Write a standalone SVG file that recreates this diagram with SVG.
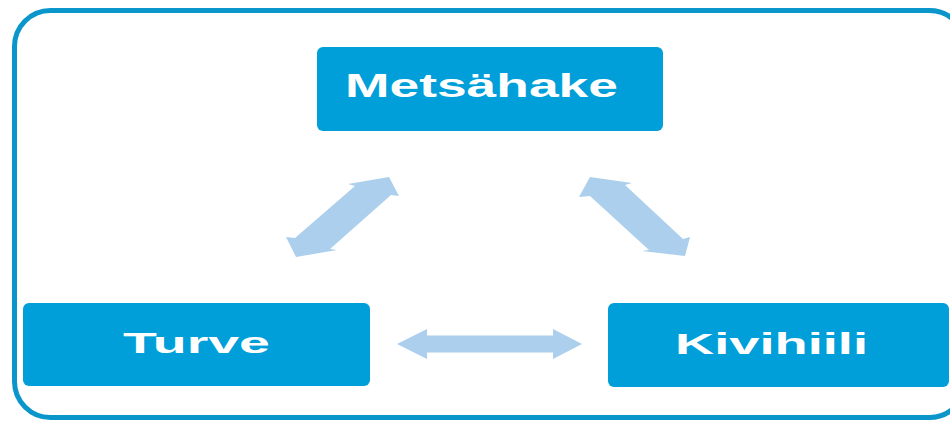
<svg xmlns="http://www.w3.org/2000/svg" width="950" height="421" viewBox="0 0 950 421">
<style>
.box{fill:#009fd9}
.lbl{font-family:"Liberation Sans",Arial,sans-serif;font-weight:bold;fill:#ffffff}
.arr{fill:#abcfec}
</style>
<rect x="0" y="0" width="950" height="421" fill="#ffffff"/>
<rect x="14.5" y="10.5" width="951" height="407" rx="36" ry="36" fill="none" stroke="#0a96cb" stroke-width="5"/>
<g id="connectors">
<polygon class="arr" points="389,177 399,196 391,195 330,249 337,250 296,257 286,237 295,238 355,186 348,184"/>
<polygon class="arr" points="590,177 632,183 625,185 683,239 690,237 685,256 642,251 649,250 590,196 579,197"/>
<polygon class="arr" points="397,344 427,329 427,335.5 553,335.5 553,329 582,344 553,359 553,352.5 427,352.5 427,359"/>
</g>
<g id="metsahake">
<rect class="box" x="317" y="47" width="346" height="84" rx="6"/>
<text class="lbl" x="345" y="97" font-size="33" textLength="273" lengthAdjust="spacingAndGlyphs">Metsähake</text>
</g>
<g id="turve">
<rect class="box" x="23" y="303" width="347" height="83" rx="6"/>
<text class="lbl" x="123" y="353" font-size="29.5" textLength="147" lengthAdjust="spacingAndGlyphs">Turve</text>
</g>
<g id="kivihiili">
<rect class="box" x="608" y="303" width="341" height="84" rx="6"/>
<text class="lbl" x="675" y="354" font-size="29.5" textLength="193" lengthAdjust="spacingAndGlyphs">Kivihiili</text>
</g>
</svg>
